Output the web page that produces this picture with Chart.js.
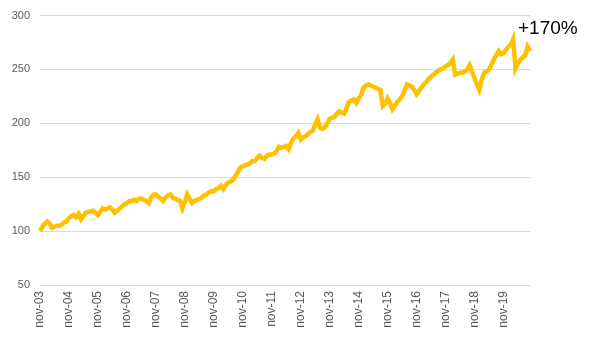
<!DOCTYPE html>
<html>
<head>
<meta charset="utf-8">
<script src="https://cdn.jsdelivr.net/npm/chart.js@4/dist/chart.umd.min.js"></script>
<style>
html,body{margin:0;padding:0;background:#fff;}
#wrap{width:596px;height:344px;position:relative;}
</style>
</head>
<body>
<div id="wrap"><canvas id="c" width="596" height="344"></canvas></div>
<script>
// Monthly index values, Nov 2003 = 100
const values = [
  100, 104, 107, 109, 107, 103, 104, 105, 105, 106, 108, 109,
  112, 114, 115, 113, 116, 111, 114, 117, 118, 118, 119, 117,
  115, 118, 121, 120, 121, 122, 120, 117, 119, 121, 123, 125,
  126, 128, 128, 129, 128, 130, 130, 129, 128, 126, 131, 134,
  134, 132, 130, 128, 131, 133, 134, 131, 130, 129, 128, 121,
  127, 134, 130, 126, 128, 129, 130, 131, 133, 134, 136, 137,
  137, 139, 140, 142, 139, 143, 145, 146, 148, 151, 155, 159,
  160, 161, 162, 163, 165, 165, 168, 170, 168, 167, 170, 171,
  171, 172, 174, 178, 177, 178, 179, 176, 182, 186, 188, 191,
  185, 187, 188, 190, 192, 193, 199, 204, 196, 195, 196, 200,
  204, 205, 206, 209, 211, 210, 209, 214, 220, 221, 222, 219,
  223, 226, 233, 235, 236, 235, 234, 233, 232, 231, 216, 218,
  223, 219, 213, 216, 220, 222, 225, 230, 236, 235, 234, 231,
  227, 230, 233, 236, 238, 241, 243, 245, 247, 249, 250, 251,
  253, 254, 256, 259, 245, 246, 247, 247, 248, 250, 254, 248,
  242, 236, 231, 240, 247, 248, 250, 254, 259, 263, 267, 264,
  265, 268, 271, 273, 278, 251, 256, 259, 261, 263, 271, 267
];
const monthNames = ['nov','dec','jan','feb','mar','apr','may','jun','jul','aug','sep','oct'];
const startYear = 2003;
const yTicks = [50, 100, 150, 200, 250, 300];
const annotationText = '+170%';

const labels = values.map((v, i) => {
  const m = i % 12;
  const yr = startYear + Math.floor((i + 10) / 12);
  return monthNames[m] + '-' + String(yr % 100).padStart(2, '0');
});

const annotate = {
  id: 'annotate',
  afterDraw(chart) {
    const ctx = chart.ctx;
    ctx.save();
    ctx.font = '19px "Liberation Sans", Arial, sans-serif';
    ctx.fillStyle = '#000';
    ctx.textAlign = 'left';
    ctx.textBaseline = 'middle';
    ctx.fillText(annotationText, 518, 29);
    ctx.restore();
  }
};

new Chart(document.getElementById('c'), {
  type: 'line',
  data: {
    labels: labels,
    datasets: [{
      data: values,
      borderColor: '#FFC000',
      borderWidth: 4.5,
      pointRadius: 0,
      tension: 0,
      fill: false
    }]
  },
  options: {
    responsive: false,
    animation: false,
    layout: { padding: { top: 4, right: 66, left: 0, bottom: 0 } },
    plugins: { legend: { display: false }, tooltip: { enabled: false } },
    scales: {
      x: {
        offset: false,
        grid: { display: false, drawTicks: false },
        border: { display: false },
        ticks: {
          autoSkip: false,
          maxRotation: 90,
          minRotation: 90,
          padding: 6,
          color: '#595959',
          font: { family: '"Liberation Sans", Arial, sans-serif', size: 12 },
          callback: function(val, idx) { return idx % 12 === 0 ? labels[idx] : ''; }
        },
        afterFit(scale) { scale.height = 59; }
      },
      y: {
        min: 50,
        max: 300,
        afterBuildTicks(scale) { scale.ticks = yTicks.map(v => ({ value: v })); },
        grid: { color: '#D9D9D9', lineWidth: 1, drawTicks: false },
        border: { display: false },
        ticks: {
          padding: 10,
          color: '#595959',
          font: { family: '"Liberation Sans", Arial, sans-serif', size: 11, lineHeight: 1 }
        },
        afterFit(scale) { scale.width = 40; }
      }
    }
  },
  plugins: [annotate]
});
</script>
</body>
</html>
